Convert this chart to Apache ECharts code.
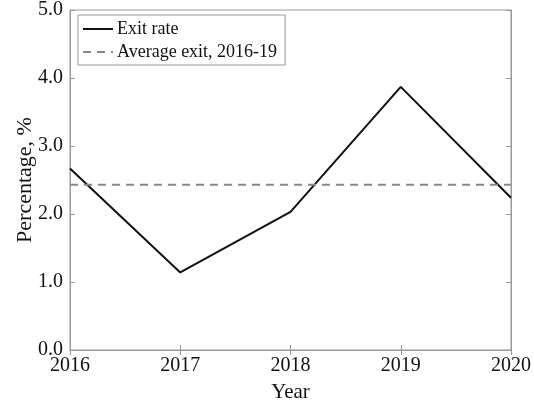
<!DOCTYPE html>
<html><head><meta charset="utf-8">
<script src="https://cdn.jsdelivr.net/npm/echarts@6/dist/echarts.min.js"></script>
<style>html,body{margin:0;padding:0;background:#fff}#c{width:534px;height:408px}</style>
</head><body><div id="c"></div>
<script>
const years = [2016, 2017, 2018, 2019, 2020];
const exitRate = [2.67, 1.14, 2.03, 3.87, 2.24];
const avgYears = [2016, 2020];
const avgExit = [2.43, 2.43];
const seriesNames = ['Exit rate', 'Average exit, 2016-19'];
const FONT = 'Liberation Serif';
const chart = echarts.init(document.getElementById('c'));
const axisCommon = {
  axisLine: {show: true, lineStyle: {color: '#999', width: 1}},
  axisTick: {show: true, inside: true, length: 5, lineStyle: {color: '#999'}},
  splitLine: {show: false}
};
chart.setOption({
  animation: false,
  textStyle: {fontFamily: FONT},
  grid: {left: 70, right: 21, top: 9, bottom: 57, show: true, borderColor: '#999', borderWidth: 1},
  legend: {
    left: 78, top: 15, orient: 'vertical',
    data: seriesNames,
    borderColor: '#999', borderWidth: 1, padding: [5, 8, 4, 4],
    itemWidth: 30, itemHeight: 16, itemGap: 5,
    itemStyle: {opacity: 0},
    textStyle: {fontFamily: FONT, fontSize: 18, color: '#111', padding: [0, 0, 0, -1]}
  },
  xAxis: [{
    type: 'value', min: 2016, max: 2020, interval: 1,
    name: 'Year', nameLocation: 'middle', nameGap: 32,
    nameTextStyle: {fontFamily: FONT, fontSize: 21, color: '#111'},
    axisLabel: {fontFamily: FONT, fontSize: 20, color: '#111', margin: 6, formatter: v => String(v)},
    ...axisCommon
  }, {
    type: 'value', min: 2016, max: 2020, interval: 1, position: 'top',
    axisLabel: {show: false}, ...axisCommon
  }],
  yAxis: [{
    type: 'value', min: 0, max: 5, interval: 1,
    name: 'Percentage, %', nameLocation: 'middle', nameGap: 34, nameMoveOverlap: false,
    nameTextStyle: {fontFamily: FONT, fontSize: 22, color: '#111'},
    axisLabel: {fontFamily: FONT, fontSize: 20, color: '#111', margin: 7, formatter: v => v.toFixed(1)},
    ...axisCommon
  }, {
    type: 'value', min: 0, max: 5, interval: 1, position: 'right',
    axisLabel: {show: false}, ...axisCommon
  }],
  series: [{
    name: seriesNames[0], type: 'line', symbol: 'none',
    data: years.map((y, i) => [y, exitRate[i]]),
    lineStyle: {color: '#111', width: 2},
    itemStyle: {color: '#111'}
  }, {
    name: seriesNames[1], type: 'line', symbol: 'none',
    data: avgYears.map((y, i) => [y, avgExit[i]]),
    lineStyle: {color: '#888', width: 2, type: [8, 6]},
    itemStyle: {color: '#888'}
  }]
});
</script></body></html>
